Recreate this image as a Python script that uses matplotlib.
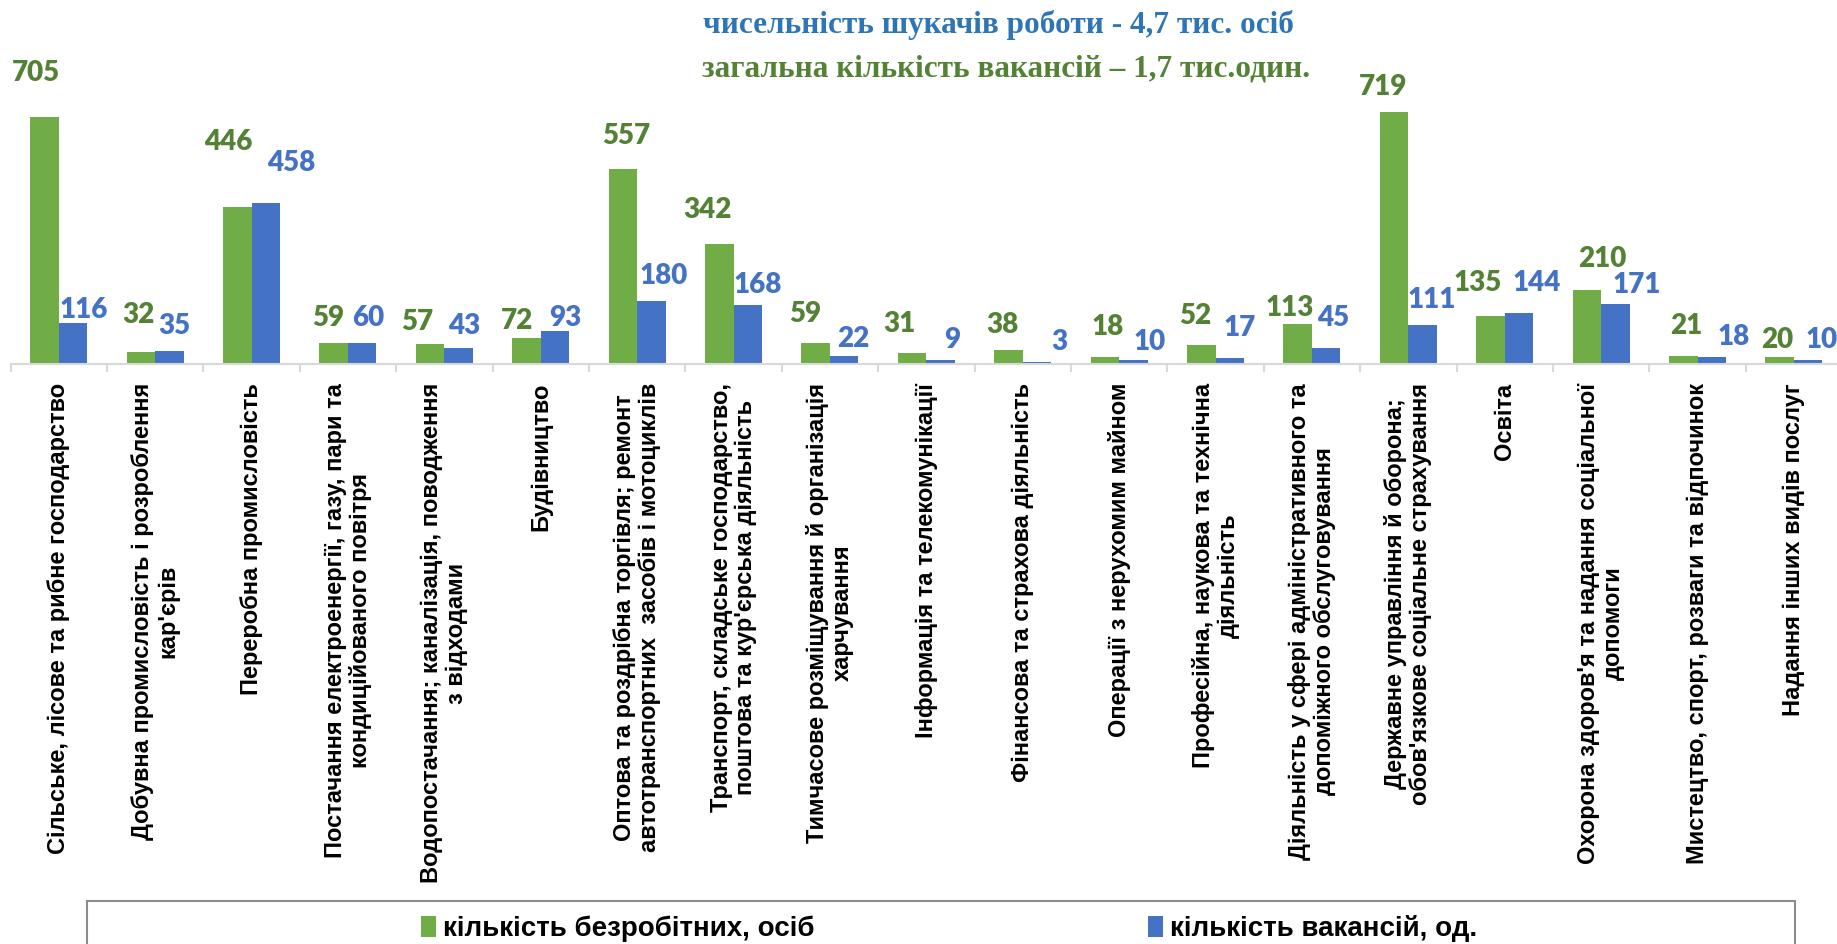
import matplotlib
matplotlib.use("Agg")
import matplotlib.pyplot as plt
from matplotlib.patches import Rectangle, Patch
import numpy as np

# ---------------- data ----------------
categories = [
    "Сільське, лісове та рибне господарство",
    "Добувна промисловість і розроблення\nкар'єрів",
    "Переробна промисловість",
    "Постачання електроенергії, газу, пари та\nкондиційованого повітря",
    "Водопостачання; каналізація, поводження\nз відходами",
    "Будівництво",
    "Оптова та роздрібна торгівля; ремонт\nавтотранспортних  засобів і мотоциклів",
    "Транспорт, складське господарство,\nпоштова та кур'єрська діяльність",
    "Тимчасове розміщування й організація\nхарчування",
    "Інформація та телекомунікації",
    "Фінансова та страхова діяльність",
    "Операції з нерухомим майном",
    "Професійна, наукова та технічна\nдіяльність",
    "Діяльність у сфері адміністративного та\nдопоміжного обслуговування",
    "Державне управління й оборона;\nобов'язкове соціальне страхування",
    "Освіта",
    "Охорона здоров'я та надання соціальної\nдопомоги",
    "Мистецтво, спорт, розваги та відпочинок",
    "Надання інших видів послуг",
]
unemployed = [705, 32, 446, 59, 57, 72, 557, 342, 59, 31, 38, 18, 52, 113, 719, 135, 210, 21, 20]
vacancies = [116, 35, 458, 60, 43, 93, 180, 168, 22, 9, 3, 10, 17, 45, 111, 144, 171, 18, 10]

series_names = ["кількість безробітних, осіб", "кількість вакансій, од."]
title_line1 = "чисельність шукачів роботи - 4,7 тис. осіб"
title_line2 = "загальна кількість вакансій – 1,7 тис.один."

# ---------------- style ----------------
GREEN = "#70AD47"
BLUE = "#4472C4"
GREEN_TXT = "#548235"
BLUE_TXT = "#4472C4"
TITLE_BLUE = "#2E75B6"
AXIS_GREY = "#D9D9D9"

# label offsets (pixels, relative to top-centre of each bar)
g_dx = [-8, -2, -9, -5, -13, -9, 3, -12, -10, -13, -6, 3, -6, -8, -11, -13, 15, 3, -2]
g_dy = [44, 37, 65, 25, 22, 17, 33, 34, 29, 29, 25, 30, 29, 16, 25, 33, 31, 30, 16]
b_dx = [11, 5, 25, 6, 6, 10, 12, 10, 9, 12, 22, 16, 10, 7, 9, 18, 21, 22, 13]
b_dy = [13, 25, 40, 25, 22, 13, 25, 20, 17, 20, 20, 18, 30, 30, 25, 30, 19, 20, 20]

W, H = 1837, 944
fig = plt.figure(figsize=(W / 100, H / 100), dpi=100)
fig.patch.set_facecolor("white")

cat_w = 96.4
base_px = 363.5
ymax = 900
ax_h_px = ymax * 0.35
ax = fig.add_axes([10.5 / W, (H - base_px) / H, 19 * cat_w / W, ax_h_px / H])
ax.set_facecolor("none")

n = len(categories)
x = np.arange(n)
bw = 0.296
b1 = ax.bar(x - bw / 2, unemployed, bw, color=GREEN, label=series_names[0], zorder=2)
b2 = ax.bar(x + bw / 2, vacancies, bw, color=BLUE, label=series_names[1], zorder=2)

ax.set_xlim(-0.5, n - 0.5)
ax.set_ylim(0, ymax)

for sp in ["top", "right", "left"]:
    ax.spines[sp].set_visible(False)
ax.spines["bottom"].set_color(AXIS_GREY)
ax.spines["bottom"].set_linewidth(1.5)
ax.set_yticks([])

ax.set_xticks(np.arange(n + 1) - 0.5)
ax.set_xticklabels([])
ax.tick_params(axis="x", which="major", length=6, width=1.5, color=AXIS_GREY, direction="out")
ax.set_xticks(x, minor=True)
ax.set_xticklabels(categories, minor=True, rotation=90, fontsize=17,
                   fontweight="bold", family="Liberation Sans", va="top", ha="center")
ax.tick_params(axis="x", which="minor", length=0, pad=14)
for lbl in ax.get_xticklabels(minor=True):
    lbl.set_multialignment("center")
    lbl.set_linespacing(1.1)

lab_font = dict(fontsize=20, fontweight="heavy", family=["Lato", "DejaVu Sans"])
for i, (r, v) in enumerate(zip(b1, unemployed)):
    ax.annotate(str(v), (r.get_x() + r.get_width() / 2, v), xytext=(g_dx[i], g_dy[i]),
                textcoords="offset pixels", ha="center", va="center",
                color=GREEN_TXT, annotation_clip=False, **lab_font)
for i, (r, v) in enumerate(zip(b2, vacancies)):
    ax.annotate(str(v), (r.get_x() + r.get_width() / 2, v), xytext=(b_dx[i], b_dy[i]),
                textcoords="offset pixels", ha="center", va="center",
                color=BLUE_TXT, annotation_clip=False, **lab_font)

# titles
fig.text(998 / W, 1 - 33 / H, title_line1, ha="center", va="baseline",
         fontsize=22.5, fontweight="bold", family="Liberation Serif", color=TITLE_BLUE)
fig.text(1006 / W, 1 - 76 / H, title_line2, ha="center", va="baseline",
         fontsize=22.5, fontweight="bold", family="Liberation Serif", color=GREEN_TXT)

# legend frame
fig.patches.append(Rectangle((87 / W, -0.02), (1795 - 87) / W, (H - 901) / H + 0.02,
                             transform=fig.transFigure, fill=False,
                             edgecolor="#8C8C8C", linewidth=1.5))
handles = [Patch(facecolor=GREEN), Patch(facecolor=BLUE)]
leg = fig.legend(handles, series_names, loc="center",
                 bbox_to_anchor=((422 + 1476) / 2 / W, 1 - 929 / H), ncol=2,
                 frameon=False, columnspacing=12.0, handlelength=0.55, handleheight=0.8,
                 handletextpad=0.25,
                 prop=dict(family=["Liberation Sans Narrow", "Liberation Sans"],
                           weight="bold", size=20))

fig.savefig("out.png", dpi=100, facecolor="white")
